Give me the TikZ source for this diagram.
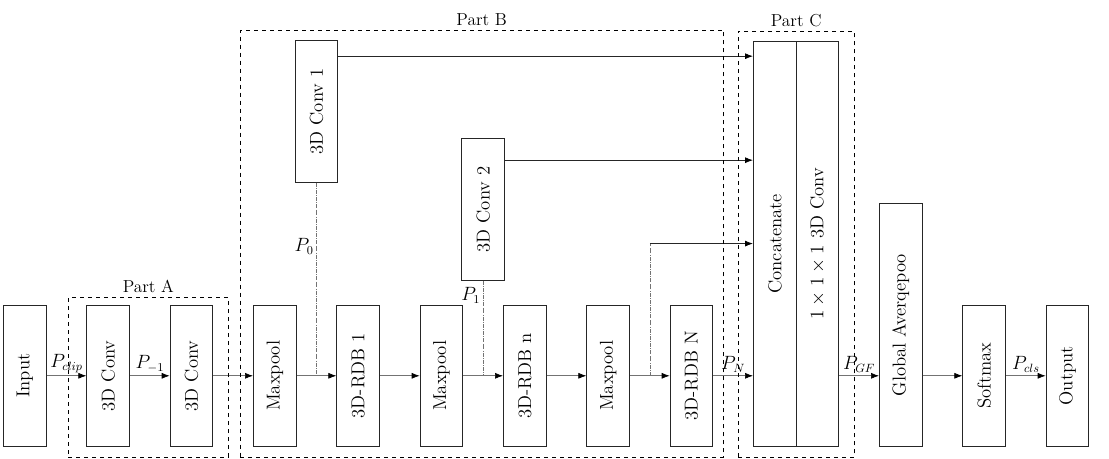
\documentclass[tikz,border=0pt]{standalone}
\usepackage{graphicx}
\usepackage{tikz}
\usetikzlibrary{positioning, arrows.meta, fit, calc}
\tikzset{
  blk/.style={draw=black!85, line width=0.8pt, fill=white, minimum width=32pt,
              minimum height=106pt, inner sep=0pt, font=\fontsize{14}{16}\selectfont},
  part/.style={draw, dashed, line width=0.6pt, inner sep=0pt},
  partlbl/.style={font=\fontsize{13}{15}\selectfont, inner sep=3pt},
  ar/.style={-{Latex[length=6pt, width=4.5pt, color=black]}, black!55, line width=0.5pt},
  ark/.style={-{Latex[length=6pt, width=4.5pt, color=black]}, black!85, line width=0.6pt},
  tap/.style={black!55, line width=0.4pt, densely dashdotted},
  plbl/.style={text=black, font=\fontsize{13.5}{15}\selectfont, inner sep=2pt},
}
\begin{document}
\begin{tikzpicture}[x=0.75pt, y=0.75pt, node distance=29.7pt]
  \useasboundingbox (0,0) rectangle (1109,459);

  % main chain
  \node[blk, anchor=south west] (in) at (3,12) {\rotatebox{90}{Input}};
  \node[blk, right=of in.south east, anchor=south west] (a1) {\rotatebox{90}{3D Conv}};
  \node[blk, right=of a1.south east, anchor=south west] (a2) {\rotatebox{90}{3D Conv}};
  \node[blk, right=of a2.south east, anchor=south west] (mp1) {\rotatebox{90}{Maxpool}};
  \node[blk, right=of mp1.south east, anchor=south west] (rdb1) {\rotatebox{90}{3D-RDB 1}};
  \node[blk, right=of rdb1.south east, anchor=south west] (mp2) {\rotatebox{90}{Maxpool}};
  \node[blk, right=of mp2.south east, anchor=south west] (rdbn) {\rotatebox{90}{3D-RDB n}};
  \node[blk, right=of rdbn.south east, anchor=south west] (mp3) {\rotatebox{90}{Maxpool}};
  \node[blk, right=of mp3.south east, anchor=south west] (rdbN) {\rotatebox{90}{3D-RDB N}};
  \node[blk, minimum height=304pt, right=of rdbN.south east, anchor=south west] (cat) {\rotatebox{90}{Concatenate}};
  \node[blk, minimum height=304pt, right=-0.8pt of cat.south east, anchor=south west] (cc) {\rotatebox{90}{$1\times1\times1$ 3D Conv}};
  \node[blk, minimum height=182pt, right=of cc.south east, anchor=south west] (gap) {\rotatebox{90}{Global Averqepoo}};
  \node[blk, right=of gap.south east, anchor=south west] (sm) {\rotatebox{90}{Softmax}};
  \node[blk, right=of sm.south east, anchor=south west] (out) {\rotatebox{90}{Output}};

  % side branches
  \coordinate (t0) at ($(mp1.east)!0.5!(rdb1.west)$);
  \coordinate (t1) at ($(mp2.east)!0.5!(rdbn.west)$);
  \coordinate (t2) at ($(mp3.east)!0.5!(rdbN.west)$);
  \node[blk, above=91.5pt of t0 |- mp1.north] (c1) {\rotatebox{90}{3D Conv 1}};
  \node[blk, above=18pt of t1 |- mp2.north] (c2) {\rotatebox{90}{3D Conv 2}};

  \draw[ar] (in) -- (a1) node[plbl, midway, above] {$P_{clip}$};
  \draw[ar] (a1) -- (a2) node[plbl, midway, above] {$P_{-1}$};
  \draw[ar] (a2) -- (mp1);
  \draw[ar] (mp1) -- (rdb1);
  \draw[ar] (rdb1) -- (mp2);
  \draw[ar] (mp2) -- (rdbn);
  \draw[ar] (rdbn) -- (mp3);
  \draw[ar] (mp3) -- (rdbN);
  \draw[ar] (rdbN) -- (rdbN -| cat.west) node[plbl, midway, above] {$P_N$};
  \draw[ar] (cc.east |- sm) -- (gap.west |- sm) node[plbl, midway, above] {$P_{GF}$};
  \draw[ar] (gap.east |- sm) -- (sm);
  \draw[ar] (sm) -- (out) node[plbl, midway, above] {$P_{cls}$};

  \draw[tap] (c1.south) -- (t0) node[plbl, pos=0.33, left] {$P_0$};
  \draw[tap] (c2.south) -- (t1) node[plbl, pos=0.16, left] {$P_1$};

  \coordinate (o1) at ($(c1.north east)+(0,-16)$);
  \coordinate (o2) at ($(c2.north east)+(0,-22)$);
  \coordinate (o3) at ($(cat.north west)+(0,-203)$);
  \draw[ark] (o1) -- (o1 -| cat.west);
  \draw[ark] (o2) -- (o2 -| cat.west);
  \draw[tap] (t2) -- (t2 |- o3);
  \draw[ark] (t2 |- o3) -- (o3);

  % dashed parts
  \coordinate (pa1) at ($(a1.north west)+(-18,7)$);
  \coordinate (pa2) at ($(a2.south east)+(15,-10)$);
  \coordinate (pb1) at ($(mp1.west |- c1.north)+(-13,10)$);
  \coordinate (pb2) at ($(rdbN.south east)+(10,-10)$);
  \coordinate (pc1) at ($(cat.north west)+(-15,9)$);
  \coordinate (pc2) at ($(cc.south east)+(15,-10)$);
  \node[part, fit=(pa1)(pa2)] (pa) {};
  \node[part, fit=(pb1)(pb2)] (pb) {};
  \node[part, fit=(pc1)(pc2)] (pc) {};
  \node[partlbl, above] at (pa.north) {Part A};
  \node[partlbl, above] at (pb.north) {Part B};
  \node[partlbl, above] at (pc.north) {Part C};
\end{tikzpicture}
\end{document}
